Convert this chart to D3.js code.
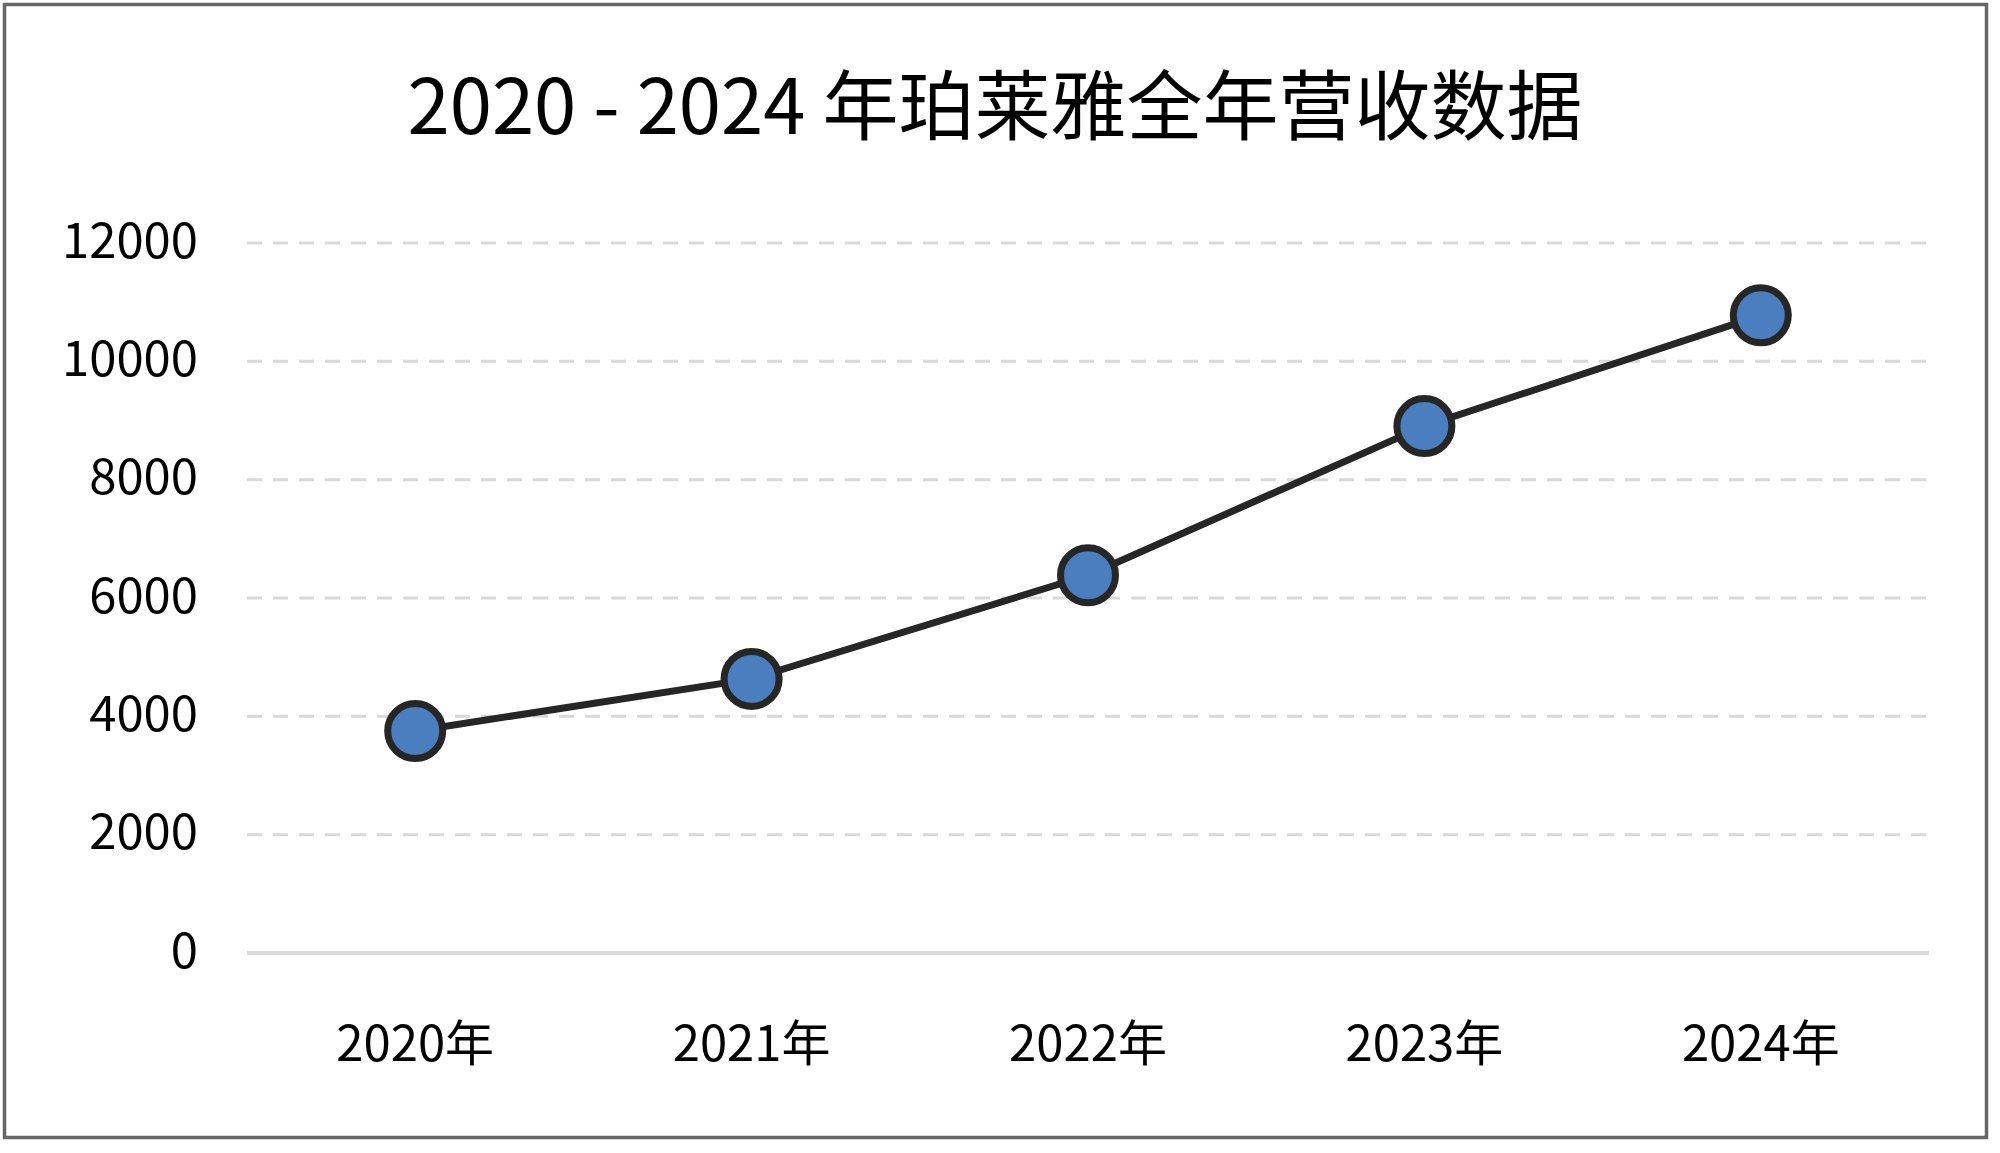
<!DOCTYPE html>
<html>
<head>
<meta charset="utf-8">
<script src="https://cdn.jsdelivr.net/npm/d3@7"></script>
<style>
html,body{margin:0;padding:0;background:#fff;}
svg{display:block;}
text{font-family:"Noto Sans CJK SC","Noto Sans",sans-serif;fill:#000;}
</style>
</head>
<body>
<svg id="chart" width="2000" height="1153"></svg>
<script>
const title = "2020 - 2024 年珀莱雅全年营收数据";
const categories = ["2020年", "2021年", "2022年", "2023年", "2024年"];
const revenue = [3752, 4633, 6385, 8905, 10778];
const yTicks = [0, 2000, 4000, 6000, 8000, 10000, 12000];

const svg = d3.select("#chart");
const plot = {left: 247, right: 1929, top: 243, bottom: 953};

svg.append("rect").attr("x", 4.5).attr("y", 4.5).attr("width", 1982).attr("height", 1133)
  .attr("fill", "#fff").attr("stroke", "#666").attr("stroke-width", 3.5);

svg.append("text").attr("x", 995).attr("y", 134).attr("text-anchor", "middle")
  .style("font-size", "76px").text(title);

const x = d3.scaleBand().domain(categories).range([plot.left, plot.right]).padding(0);
const y = d3.scaleLinear().domain([0, 12000]).range([plot.bottom, plot.top]);

// gridlines
svg.append("g").selectAll("line").data(yTicks.filter(d => d > 0)).join("line")
  .attr("x1", plot.left).attr("x2", plot.right)
  .attr("y1", d => y(d)).attr("y2", d => y(d))
  .attr("stroke", "#d9d9d9").attr("stroke-width", 3).attr("stroke-dasharray", "15 11");

// y axis labels
const yAxis = d3.axisLeft(y).tickValues(yTicks).tickSize(0).tickPadding(0).tickFormat(d3.format("d"));
const yg = svg.append("g").attr("transform", `translate(198,0)`).call(yAxis);
yg.select(".domain").remove();
yg.selectAll("text").style("font-size", "49px").attr("fill", "#000")
  .attr("dy", "0.29em").attr("x", 0);

// x axis baseline
svg.append("line").attr("x1", plot.left).attr("x2", plot.right)
  .attr("y1", y(0)).attr("y2", y(0)).attr("stroke", "#d9d9d9").attr("stroke-width", 4);

const xAxis = d3.axisBottom(x).tickSize(0).tickPadding(0);
const xg = svg.append("g").attr("transform", `translate(0,${y(0)})`).call(xAxis);
xg.select(".domain").remove();
xg.selectAll("text").style("font-size", "49px").attr("fill", "#000")
  .attr("dy", 0).attr("y", 108);

const pts = categories.map((c, i) => ({c, v: revenue[i]}));
const line = d3.line().x(d => x(d.c) + x.bandwidth() / 2).y(d => y(d.v));
svg.append("path").datum(pts).attr("d", line).attr("fill", "none")
  .attr("stroke", "#262626").attr("stroke-width", 7).attr("stroke-linejoin", "round");

svg.append("g").selectAll("circle").data(pts).join("circle")
  .attr("cx", d => x(d.c) + x.bandwidth() / 2).attr("cy", d => y(d.v))
  .attr("r", 27.5).attr("fill", "#4a7ebf").attr("stroke", "#262626").attr("stroke-width", 7);
</script>
</body>
</html>
